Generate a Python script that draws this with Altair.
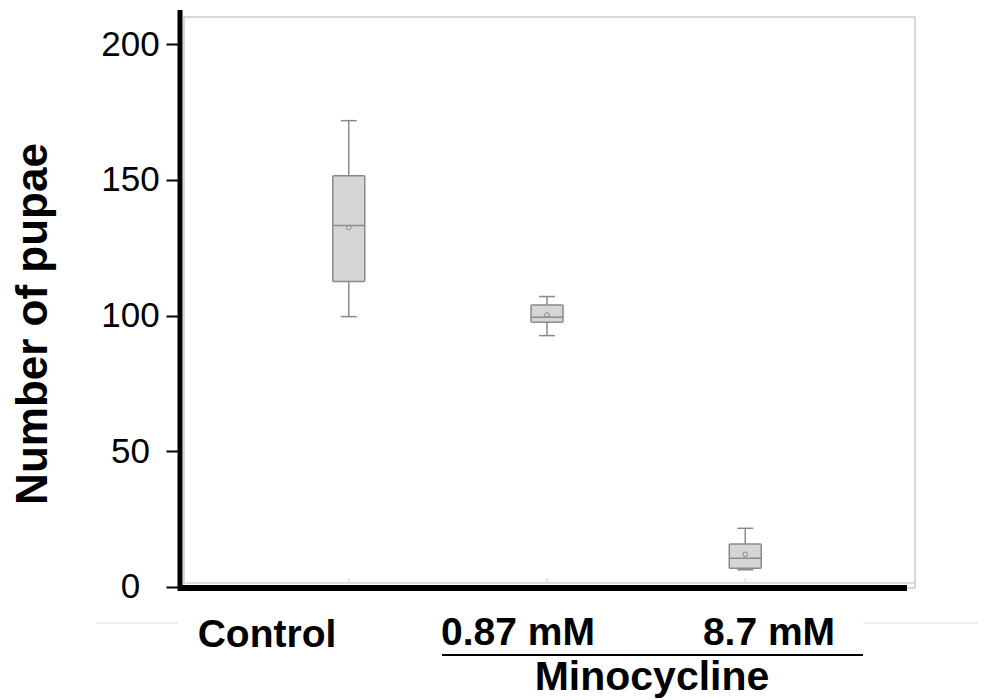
import altair as alt
import pandas as pd

# ---- data ----
groups = ["Control", "0.87 mM", "8.7 mM"]
positions = [1, 2, 3]
whisker_low = [99.6, 92.6, 6.3]
q1 = [112.5, 97.5, 6.9]
median = [133.2, 99.4, 10.6]
mean = [132.4, 100.2, 12.0]
q3 = [151.5, 103.9, 15.8]
whisker_high = [171.8, 107.0, 21.6]
y_ticks = [0, 50, 100, 150, 200]
y_title = "Number of pupae"
group_title = "Minocycline"

df = pd.DataFrame({
    "group": groups, "pos": positions, "lo": whisker_low, "q1": q1,
    "med": median, "mean": mean, "q3": q3, "hi": whisker_high,
})
one = pd.DataFrame({"k": [0]})

# ---- layout ----
W, H = 731, 571
FONT = "Liberation Sans"
GREY = "#8a8a8a"

xs = alt.Scale(domain=[0.194, 3.831], nice=False, zero=False)
ys = alt.Scale(domain=[-0.4, 210], nice=False, zero=False)
yaxis = alt.Axis(values=y_ticks, tickSize=12, tickWidth=2, tickColor="black",
                 domain=False, grid=False, labelFont=FONT, labelFontSize=35,
                 labelColor="black", labelAlign="center", labelPadding=36,
                 labelBaseline="middle", offset=6, title=None)
X = alt.X("pos:Q", scale=xs, axis=None)

def Y(f):
    return alt.Y(f"{f}:Q", scale=ys, axis=yaxis)

base = alt.Chart(df)

whisk = base.mark_rule(color=GREY, strokeWidth=1.5).encode(x=X, y=Y("lo"), y2="hi:Q")
cap_lo = base.mark_tick(orient="horizontal", size=16, thickness=1.5, color=GREY, opacity=1).encode(x=X, y=Y("lo"))
cap_hi = base.mark_tick(orient="horizontal", size=16, thickness=1.5, color=GREY, opacity=1).encode(x=X, y=Y("hi"))
box = base.mark_bar(size=32, orient="vertical", fill="#d6d6d6", stroke=GREY,
                    strokeWidth=1.5, cornerRadius=1).encode(x=X, y=Y("q1"), y2="q3:Q")
med = base.mark_tick(orient="horizontal", size=32, thickness=1.5, color=GREY, opacity=1).encode(x=X, y=Y("med"))
mn = base.mark_point(shape="circle", size=22, filled=False, stroke=GREY, strokeWidth=1,
                     opacity=1).encode(x=X, y=Y("mean"))
cat_ticks = base.mark_rule(color="#cfcfcf", strokeWidth=1).encode(
    x=X, y=alt.value(H - 10), y2=alt.value(H - 5))

def rule(x1, x2, y1, y2, color, w):
    return alt.Chart(one).mark_rule(color=color, strokeWidth=w).encode(
        x=alt.value(x1), x2=alt.value(x2), y=alt.value(y1), y2=alt.value(y2))

frame_bottom = rule(0, W, H - 5, H - 5, "#d3d3d3", 1.5)
axis_left = rule(-4, -4, -7, H + 3, "black", 5)
axis_bottom = rule(-6, 723, H, H, "black", 6)
sep_left = rule(-88, -6, 606, 606, "#dcdcdc", 1)
sep_right = rule(679, 794, 606, 606, "#dcdcdc", 1)
bracket = rule(258, 679, 638, 638, "black", 2)

def label(txt, x, y, size=39, angle=0):
    return alt.Chart(one).mark_text(text=txt, font=FONT, fontSize=size, fontWeight="bold",
                                    color="black", align="center", baseline="alphabetic",
                                    angle=angle).encode(x=alt.value(x), y=alt.value(y))

lab_ctrl = label(groups[0], 83, 630)
lab_low = label(groups[1], 334, 628)
lab_high = label(groups[2], 585, 628)
lab_group = label(group_title, 468, 673, size=41)
ytitle = alt.Chart(one).mark_text(text=y_title, font=FONT, fontSize=44, fontWeight="bold",
                                  color="black", align="center", baseline="middle",
                                  angle=270).encode(x=alt.value(-150), y=alt.value(307))

chart = alt.layer(
    cat_ticks, frame_bottom, whisk, cap_lo, cap_hi, box, med, mn,
    axis_left, axis_bottom, sep_left, sep_right, bracket,
    lab_ctrl, lab_low, lab_high, lab_group, ytitle,
).properties(
    width=W, height=H,
    autosize=alt.AutoSizeParams(type="none"),
    padding={"left": 176, "top": 9, "right": 63, "bottom": 112},
    background="white",
).configure_view(stroke="#cccccc", strokeWidth=1.5)

chart.save("out.html", embed_options={"renderer": "svg", "actions": False})
